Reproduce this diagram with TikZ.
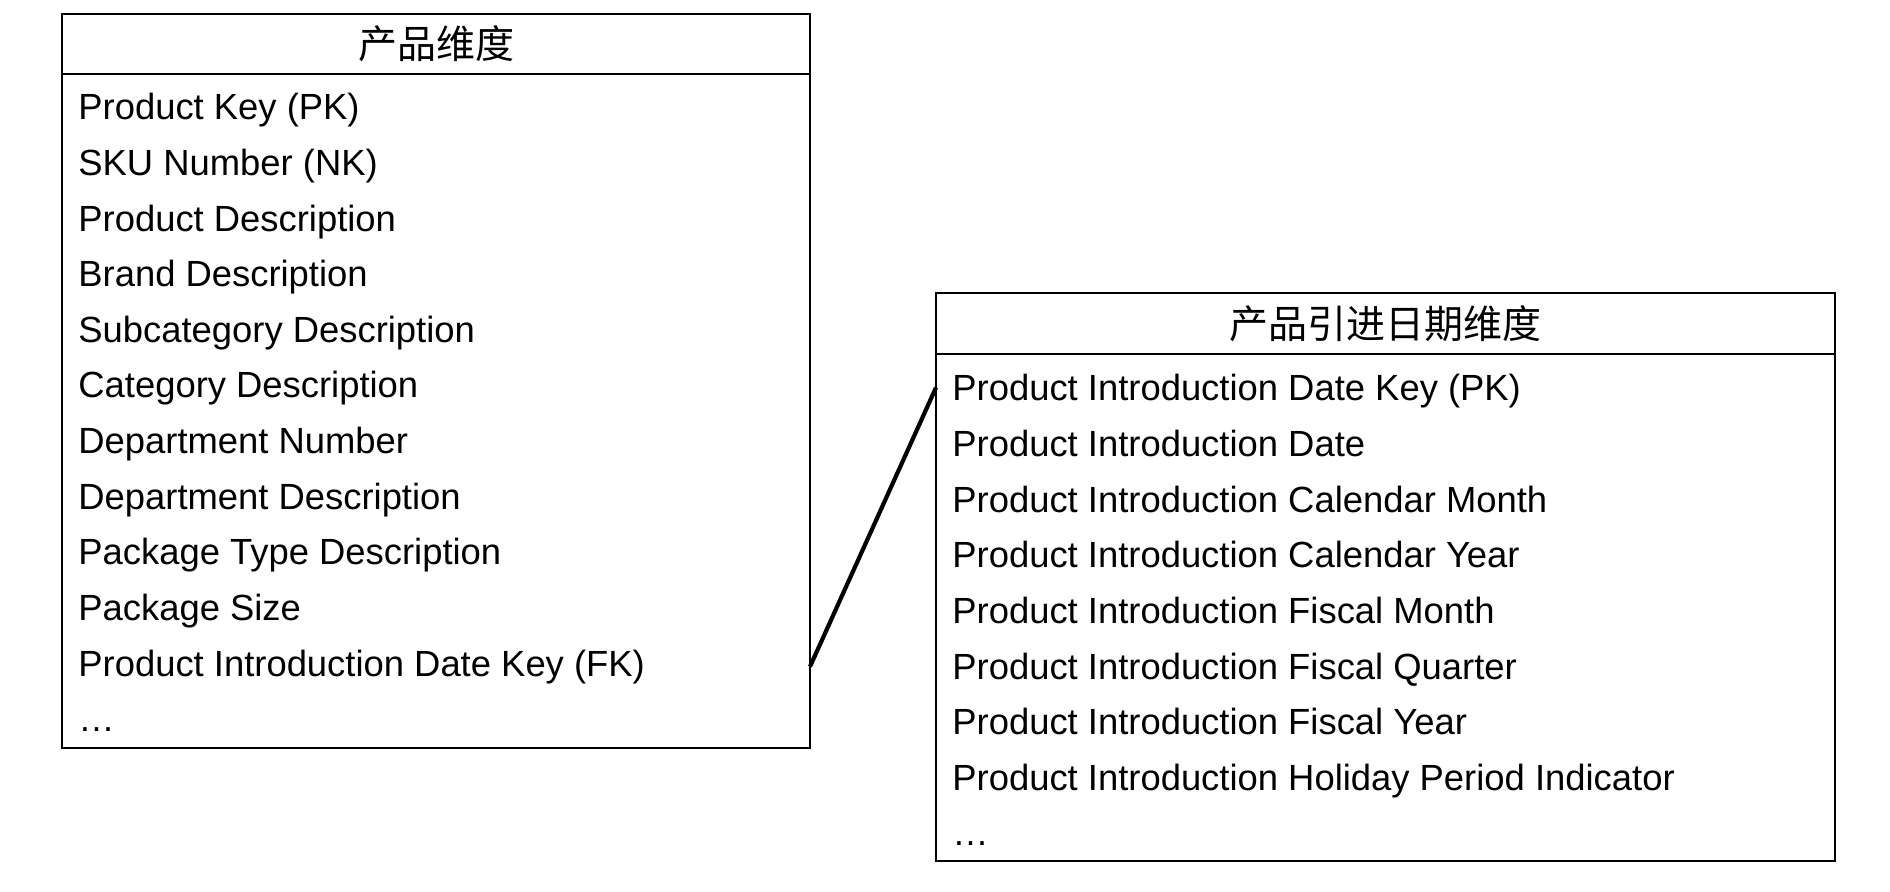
\documentclass[tikz,border=0pt]{standalone}
\usepackage{fontspec}
\setmainfont{Liberation Sans}
\newfontfamily\cjk{Noto Sans CJK SC}
\usetikzlibrary{positioning}

\begin{document}
\begin{tikzpicture}
    \tikzstyle{head} = [draw, rectangle, line width=1.3pt, outer sep=0pt, minimum height=30pt, font=\cjk\fontsize{19.5}{22}\selectfont];
    \tikzstyle{body} = [draw, rectangle, line width=1.3pt, outer sep=0pt];
    \tikzstyle{row} = [inner sep=0pt, anchor=base west, font=\fontsize{18.2}{22}\selectfont];

    \useasboundingbox (0, 0) rectangle (945pt, -446pt);

    \node[head, minimum width=374pt, anchor=north west] (prod) at (31pt, -7pt) {产品维度};
    \node[body, minimum width=374pt, minimum height=337pt, below=0pt of prod] (prodbox) {};

    \node[head, minimum width=449.5pt, minimum height=30.5pt, anchor=north west] (intro) at (468pt, -146.5pt) {产品引进日期维度};
    \node[body, minimum width=449.5pt, minimum height=253.5pt, below=0pt of intro] (introbox) {};

    \foreach \t [count=\i] in {Product Key (PK), SKU Number (NK), Product Description, Brand Description, Subcategory Description, Category Description, Department Number, Department Description, Package Type Description, Package Size, Product Introduction Date Key (FK), \ldots}
        \node[row] (prod\i) at ([xshift=8pt, yshift={-23pt-(\i-1)*27.8pt}] prodbox.north west) {\t};

    \foreach \t [count=\i] in {Product Introduction Date Key (PK), Product Introduction Date, Product Introduction Calendar Month, Product Introduction Calendar Year, Product Introduction Fiscal Month, Product Introduction Fiscal Quarter, Product Introduction Fiscal Year, Product Introduction Holiday Period Indicator, \ldots}
        \node[row] (intro\i) at ([xshift=8pt, yshift={-23.5pt-(\i-1)*27.8pt}] introbox.north west) {\t};

    \draw[line width=2.1pt] (prodbox.east |- prod11) -- ([yshift=2pt] introbox.west |- intro1);
\end{tikzpicture}
\end{document}
